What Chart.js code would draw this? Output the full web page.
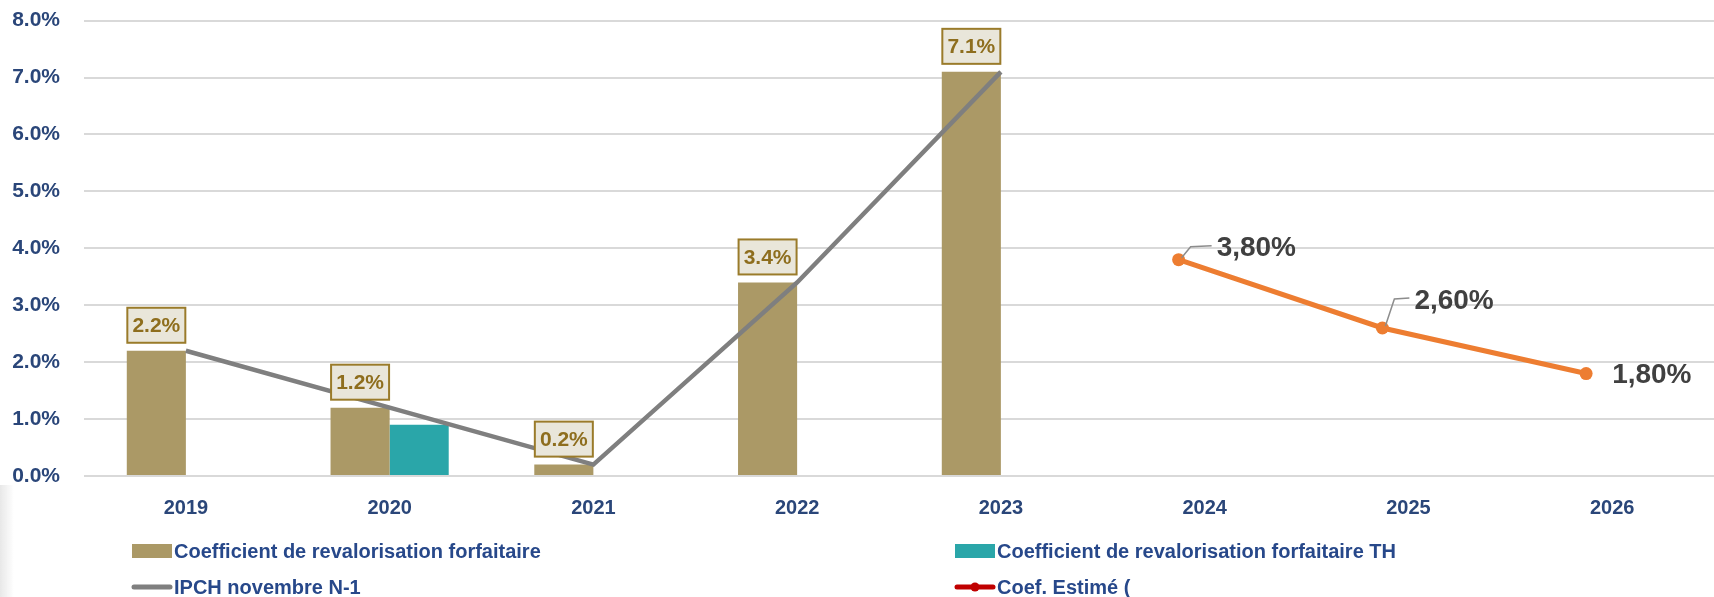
<!DOCTYPE html>
<html lang="fr">
<head>
<meta charset="utf-8">
<title>Coefficient de revalorisation forfaitaire</title>
<script src="https://cdn.jsdelivr.net/npm/chart.js@4.4.0/dist/chart.umd.min.js"></script>
<style>
  html, body { margin: 0; padding: 0; background: #fff; }
  #wrap { position: relative; width: 1714px; height: 597px; overflow: hidden; }
  #edge { position: absolute; left: 0; top: 485px; width: 14px; height: 112px;
          background: linear-gradient(to right, #e8e8e8, rgba(255,255,255,0)); }
</style>
</head>
<body>
<div id="wrap">
  <canvas id="myChart" width="1714" height="597"></canvas>
  <div id="edge"></div>
</div>
<script>
// data
const categories = ['2019', '2020', '2021', '2022', '2023', '2024', '2025', '2026'];
const coefForfaitaire = [2.2, 1.2, 0.2, 3.4, 7.1, null, null, null];
const coefForfaitaireTH = [null, 0.9, null, null, null, null, null, null];
const ipchNovN1 = [2.2, 1.2, 0.2, 3.4, 7.1, null, null, null];
const coefEstime = [null, null, null, null, null, 3.8, 2.6, 1.8];
const coefEstimeLabels = [null, null, null, null, null, '3,80%', '2,60%', '1,80%'];
const yTickValues = [0, 1, 2, 3, 4, 5, 6, 7, 8];

const FONT = '"Liberation Sans", Arial, sans-serif';
const AXIS_COLOR = '#2A4679';
const LEGEND_COLOR = '#27488A';

// the estimated series sits a little left of the category centres in the original
const ESTIME_SHIFT = -26;

const barLabels = {
  id: 'barLabels',
  afterDatasetsDraw(chart) {
    const ctx = chart.ctx;
    const meta = chart.getDatasetMeta(0);
    ctx.save();
    ctx.font = 'bold 21px ' + FONT;
    ctx.textAlign = 'center';
    ctx.textBaseline = 'middle';
    meta.data.forEach((bar, i) => {
      const v = coefForfaitaire[i];
      if (v == null) return;
      const w = 58, h = 35;
      const x = bar.x - w / 2;
      const y = bar.y - 8 - h;
      ctx.fillStyle = '#E9E6DA';
      ctx.fillRect(x, y, w, h);
      ctx.lineWidth = 2;
      ctx.strokeStyle = '#9A7B2A';
      ctx.strokeRect(x, y, w, h);
      ctx.fillStyle = '#8E6E1E';
      ctx.fillText(v.toFixed(1) + '%', bar.x, y + h / 2 + 1);
    });
    ctx.restore();
  }
};

// where each estimated label sits relative to its point
const estimePlacement = [
  { dx: 38, dy: -11, leader: true },
  { dx: 32, dy: -27, leader: true },
  { dx: 26, dy: 2, leader: false }
];

const estimeShift = {
  id: 'estimeShift',
  beforeDatasetDraw(chart, args) {
    if (args.index !== 3) return;
    chart.ctx.save();
    chart.ctx.translate(ESTIME_SHIFT, 0);
  },
  afterDatasetDraw(chart, args) {
    if (args.index !== 3) return;
    chart.ctx.restore();
  },
  afterDatasetsDraw(chart) {
    const ctx = chart.ctx;
    const meta = chart.getDatasetMeta(3);
    let k = 0;
    ctx.save();
    ctx.font = 'bold 28px ' + FONT;
    ctx.textAlign = 'left';
    ctx.textBaseline = 'middle';
    meta.data.forEach((pt, i) => {
      if (coefEstime[i] == null) return;
      const p = estimePlacement[k++];
      const px = pt.x + ESTIME_SHIFT, py = pt.y;
      if (p.leader) {
        ctx.strokeStyle = '#8C8C8C';
        ctx.lineWidth = 1.5;
        ctx.beginPath();
        ctx.moveTo(px + 3, py - 2);
        ctx.lineTo(px + 12, py + p.dy - 2);
        ctx.lineTo(px + p.dx - 5, py + p.dy - 3);
        ctx.stroke();
      }
      ctx.fillStyle = '#404040';
      ctx.fillText(coefEstimeLabels[i], px + p.dx, py + p.dy);
    });
    ctx.restore();
  }
};

const legendItems = [
  { text: 'Coefficient de revalorisation forfaitaire', kind: 'box', color: '#AB9966', col: 0, row: 0 },
  { text: 'Coefficient de revalorisation forfaitaire TH', kind: 'box', color: '#2AA6A9', col: 1, row: 0 },
  { text: 'IPCH novembre N-1', kind: 'line', color: '#7F7F7F', col: 0, row: 1 },
  { text: 'Coef. Estimé (', kind: 'marker', color: '#C00000', col: 1, row: 1 }
];

const bottomLegend = {
  id: 'bottomLegend',
  afterDraw(chart) {
    const ctx = chart.ctx;
    const colX = [132, 955];
    const rowY = [551, 587];
    ctx.save();
    ctx.font = 'bold 20px ' + FONT;
    ctx.textBaseline = 'middle';
    ctx.textAlign = 'left';
    legendItems.forEach(item => {
      const x = colX[item.col], y = rowY[item.row];
      ctx.fillStyle = item.color;
      ctx.strokeStyle = item.color;
      if (item.kind === 'box') {
        ctx.fillRect(x, y - 7, 40, 14);
      } else {
        ctx.lineWidth = 5;
        ctx.lineCap = 'round';
        ctx.beginPath();
        ctx.moveTo(x + 2, y);
        ctx.lineTo(x + 38, y);
        ctx.stroke();
        if (item.kind === 'marker') {
          ctx.beginPath();
          ctx.arc(x + 20, y, 4.5, 0, Math.PI * 2);
          ctx.fill();
        }
      }
      ctx.fillStyle = LEGEND_COLOR;
      ctx.fillText(item.text, x + 42, y + 1);
    });
    ctx.restore();
  }
};

new Chart(document.getElementById('myChart'), {
  type: 'bar',
  data: {
    labels: categories,
    datasets: [
      {
        label: 'Coefficient de revalorisation forfaitaire',
        data: coefForfaitaire,
        backgroundColor: '#AB9966',
        categoryPercentage: 0.58,
        barPercentage: 1,
        order: 2
      },
      {
        label: 'Coefficient de revalorisation forfaitaire TH',
        data: coefForfaitaireTH,
        backgroundColor: '#2AA6A9',
        categoryPercentage: 0.58,
        barPercentage: 1,
        order: 2
      },
      {
        type: 'line',
        label: 'IPCH novembre N-1',
        data: ipchNovN1,
        borderColor: '#7F7F7F',
        borderWidth: 4.5,
        pointRadius: 0,
        tension: 0,
        order: 1
      },
      {
        type: 'line',
        label: 'Coef. Estimé (',
        data: coefEstime,
        borderColor: '#ED7D31',
        backgroundColor: '#ED7D31',
        borderWidth: 5,
        pointRadius: 6.5,
        pointBorderWidth: 0,
        tension: 0,
        order: 0
      }
    ]
  },
  options: {
    responsive: false,
    animation: false,
    layout: { autoPadding: false, padding: { top: 0, right: 0, bottom: 0, left: 0 } },
    plugins: {
      legend: { display: false },
      tooltip: { enabled: false }
    },
    scales: {
      x: {
        offset: true,
        grid: { display: false, drawTicks: false },
        border: { display: false },
        ticks: { color: AXIS_COLOR, font: { family: FONT, size: 20, weight: 'bold' }, padding: 20 },
        afterFit(scale) { scale.height = 121; }
      },
      y: {
        min: 0,
        max: 8,
        afterBuildTicks(scale) { scale.ticks = yTickValues.map(v => ({ value: v })); },
        grid: { color: '#D9D9D9', lineWidth: 2, drawTicks: true, tickLength: 16, tickColor: 'rgba(0,0,0,0)' },
        border: { display: false },
        ticks: {
          color: AXIS_COLOR,
          font: { family: FONT, size: 21, weight: 'bold' },
          padding: 8,
          callback: v => v.toFixed(1) + '%'
        },
        afterFit(scale) { scale.width = 84; }
      }
    }
  },
  plugins: [estimeShift, barLabels, bottomLegend]
});
</script>
</body>
</html>
